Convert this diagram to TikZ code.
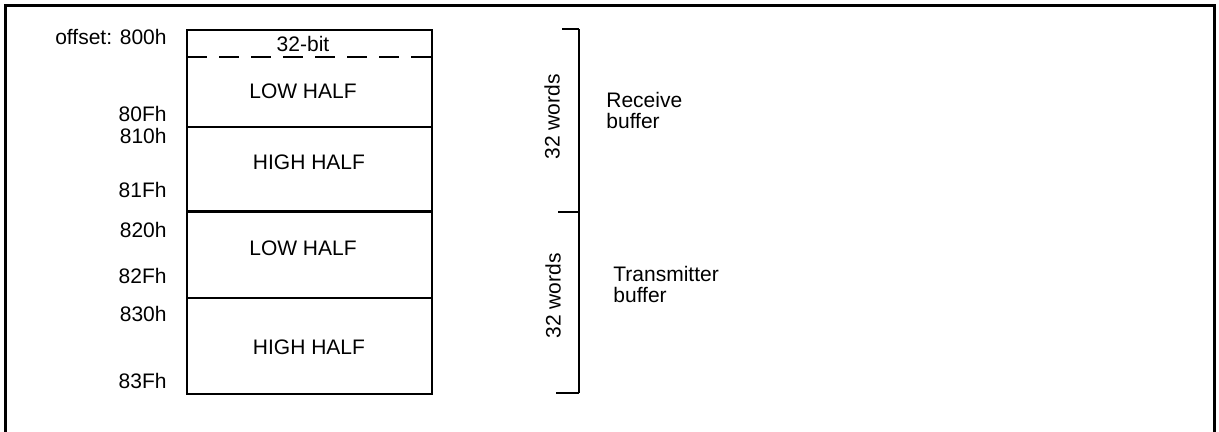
\documentclass[tikz,border=0pt]{standalone}
\usepackage{fontspec}
\setmainfont{Liberation Sans}
\usepackage{tikz}

\begin{document}
\begin{tikzpicture}[x=0.5pt,y=-0.5pt,every node/.style={font=\fontsize{10.5}{10.5}\selectfont,inner sep=0pt},
  addr/.style={anchor=east},
  words/.style={rotate=90},
  bufname/.style={anchor=west,align=left}]
\useasboundingbox (0,0) rectangle (1219,432);
% outer frame, open at the bottom
\draw[line width=1.5pt] (5,432) -- (5,5.5) -- (1214,5.5) -- (1214,432);
% memory block
\draw[line width=1pt] (187,30) rectangle (432,394);
\draw[line width=1pt,dash pattern=on 10pt off 6pt] (187,57) -- (432,57);
\draw[line width=1pt] (187,127) -- (432,127);
\draw[line width=1.5pt] (187,212) -- (432,212);
\draw[line width=1pt] (187,298) -- (432,298);
\node (bits) at (303,44) {32-bit};
\node (rxlow) at (303,91) {LOW HALF};
\node (rxhigh) at (309,162) {HIGH HALF};
\node (txlow) at (303,248) {LOW HALF};
\node (txhigh) at (309,347) {HIGH HALF};
% addresses
\node[addr] (a800) at (167,37) {offset: 800h};
\node[addr] (a80F) at (167,114) {80Fh};
\node[addr] (a810) at (167,136) {810h};
\node[addr] (a81F) at (167,190) {81Fh};
\node[addr] (a820) at (167,230) {820h};
\node[addr] (a82F) at (167,276) {82Fh};
\node[addr] (a830) at (167,314) {830h};
\node[addr] (a83F) at (167,381) {83Fh};
% brackets
\coordinate (rxtop) at (579,29);
\coordinate (rxbot) at (579,212);
\coordinate (txbot) at (579,393);
\draw[line width=1pt] (rxtop) -- (txbot);
\draw[line width=1pt] (rxtop) -- +(-17,0);
\draw[line width=1pt] (rxbot) -- +(-21,0);
\draw[line width=1pt] (txbot) -- +(-23,0);
\node[words] (rxwords) at (552,117) {32 words};
\node[words] (txwords) at (553,296) {32 words};
\node[bufname] (rxname) at (606,110) {Receive\\buffer};
\node[bufname] (txname) at (613,284) {Transmitter\\buffer};
\end{tikzpicture}
\end{document}
